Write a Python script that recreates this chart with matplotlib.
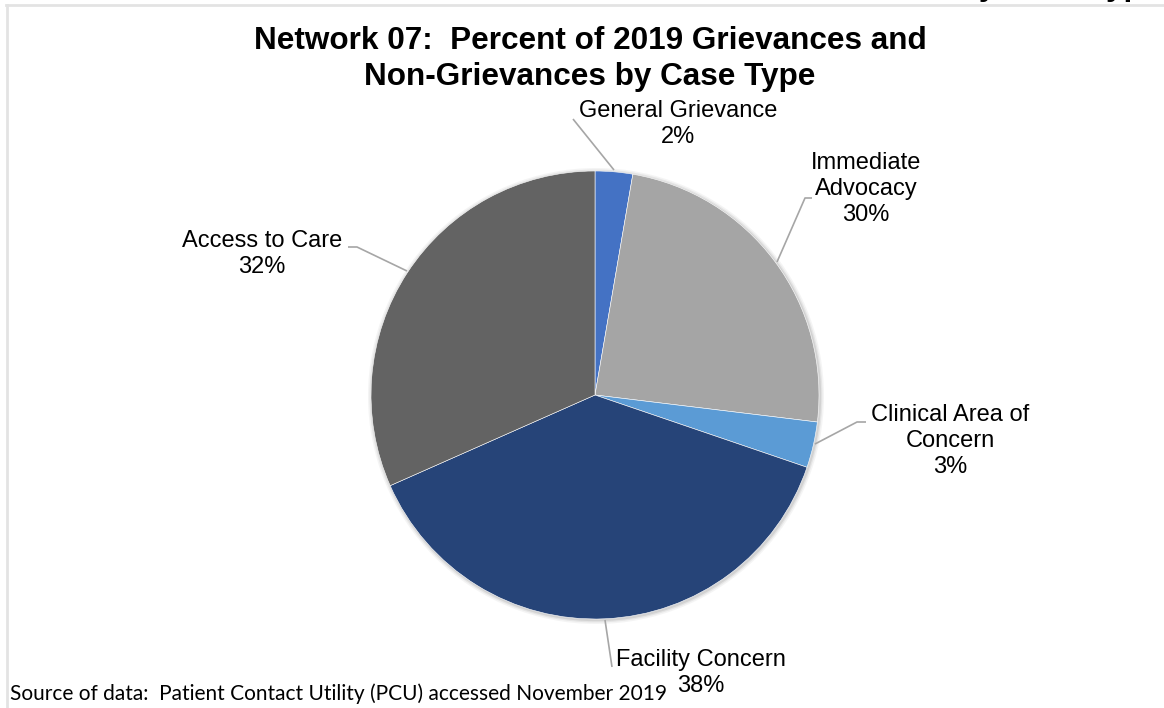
import matplotlib.pyplot as plt
from matplotlib.patches import Circle

categories = ['General Grievance', 'Immediate\nAdvocacy', 'Clinical Area of\nConcern',
              'Facility Concern', 'Access to Care']
values = [2.7, 24.2, 3.3, 38.1, 31.6]
pct_labels = ['2%', '30%', '3%', '38%', '32%']
colors = ['#4472C4', '#A5A5A5', '#5B9BD5', '#264478', '#636363']

W, H = 1164, 708
fig = plt.figure(figsize=(W / 100, H / 100), dpi=100)
ax = fig.add_axes([0, 0, 1, 1])

cx, cy, r = 595, H - 395, 224

# soft shadow behind the pie
for k, a in [(4, 0.08), (2.5, 0.12), (1.2, 0.18)]:
    ax.add_patch(Circle((cx + 1, cy - 1), r + k, color='#7F7F7F', alpha=a, lw=0, zorder=1))

ax.pie(values, colors=colors, startangle=90, counterclock=False,
       center=(cx, cy), radius=r, frame=True,
       wedgeprops=dict(linewidth=0.4, edgecolor='white'))
ax.set_xlim(0, W)
ax.set_ylim(0, H)
ax.set_aspect('equal')
ax.axis('off')

# label text positions (pixels from top) and leader lines
label_pos = [(678, 124), (866, 189), (950, 441), (701, 673), (262, 254)]
leaders = [
    [(573, 119), (614, 170)],
    [(812, 198), (805, 198), (777, 262)],
    [(866, 422), (857, 422), (815, 444)],
    [(605, 620), (612, 667)],
    [(348, 247), (357, 247), (407, 271)],
]

lab_font = dict(family='Liberation Sans', fontsize=17, color='#000000')
for name, pct, (x, y), pts in zip(categories, pct_labels, label_pos, leaders):
    ax.text(x, H - y, name + '\n' + pct, ha='center', va='center',
            linespacing=1.22, zorder=5, **lab_font)
    xs = [p[0] for p in pts]
    ys = [H - p[1] for p in pts]
    ax.plot(xs, ys, color='#A6A6A6', lw=1.2, zorder=4, solid_capstyle='butt')

fig.text(590 / W, 1 - 59 / H, 'Network 07:  Percent of 2019 Grievances and\nNon-Grievances by Case Type',
         ha='center', va='center', family='Liberation Sans', fontweight='bold',
         fontsize=22.7, linespacing=1.24)

fig.text(10 / W, 1 - 694 / H, 'Source of data:  Patient Contact Utility (PCU) accessed November 2019',
         ha='left', va='center', family='Lato', fontsize=15, color='#000000')

# remnant of the heading above, cut off by the frame
fig.text(1160 / W, 1 + 13 / H, 'Non-Grievances by Case Type', ha='right', va='center',
         family='Liberation Sans', fontweight='bold', fontsize=22.7)

# light frame on top and left
ax.plot([6, W], [H - 4.5, H - 4.5], color='#E3E3E3', lw=2, zorder=6, clip_on=False)
ax.plot([6.5, 6.5], [0, H - 4.5], color='#E3E3E3', lw=2, zorder=6, clip_on=False)

fig.savefig('out.png', dpi=100, facecolor='white')
